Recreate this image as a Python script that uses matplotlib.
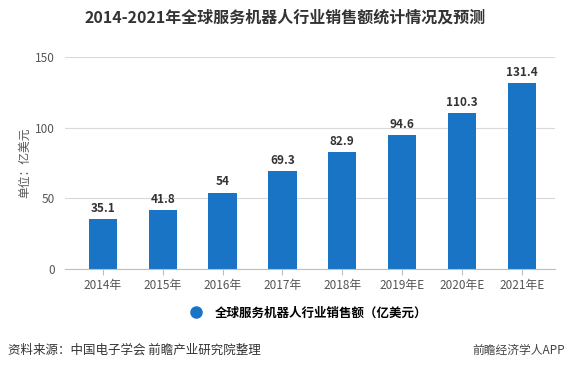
"""Global service robot sales chart."""

import matplotlib

matplotlib.use("Agg")
from matplotlib import pyplot as plt
from matplotlib.lines import Line2D

plt.rcParams["font.family"] = ["Noto Sans CJK SC", "DejaVu Sans"]

years = ["2014年", "2015年", "2016年", "2017年", "2018年", "2019年E", "2020年E", "2021年E"]
sales = [35.1, 41.8, 54, 69.3, 82.9, 94.6, 110.3, 131.4]
sales_labels = ["35.1", "41.8", "54", "69.3", "82.9", "94.6", "110.3", "131.4"]
yticks = [0, 50, 100, 150]
series_name = "全球服务机器人行业销售额（亿美元）"

bar_color = "#1a74c6"

fig = plt.figure(figsize=(5.71, 3.70), dpi=100)
ax = fig.add_axes([65 / 571, 1 - 269 / 370, 490 / 571, 212 / 370])

x = range(len(years))
ax.bar(x, sales, width=0.47, color=bar_color, zorder=2)
for xi, v, lab in zip(x, sales, sales_labels):
    ax.text(xi, v + 3, lab, ha="center", va="bottom", fontsize=8.5,
            fontweight="bold", color="#333333")

ax.set_xlim(-0.63, 7.55)
ax.set_ylim(0, 150)
ax.set_yticks(yticks)
ax.set_xticks(list(x))
ax.set_xticklabels(years)
ax.grid(axis="y", color="#d9d9d9", linewidth=0.8, zorder=0)
for side in ["top", "right", "left"]:
    ax.spines[side].set_visible(False)
ax.spines["bottom"].set_color("#bfbfbf")
ax.tick_params(axis="y", length=0, labelsize=8.5, labelcolor="#555555", pad=7)
ax.tick_params(axis="x", length=4, color="#bfbfbf", labelsize=8.5, labelcolor="#555555")
ax.set_ylabel("单位：亿美元", fontsize=8.5, color="#555555", labelpad=3)

fig.text(0.5, 1 - 18 / 370, "2014-2021年全球服务机器人行业销售额统计情况及预测",
         ha="center", va="center", fontsize=11.5, fontweight="bold", color="#333333")

# legend with a round marker
handle = Line2D([], [], marker="o", linestyle="none", markersize=8, color=bar_color)
ax.legend([handle], [series_name], loc="center", bbox_to_anchor=(0.49, (269 - 313) / 212),
          frameon=False, handletextpad=0.5, prop={"weight": "bold", "size": 9})

fig.text(8 / 571, 1 - 350 / 370, "资料来源：中国电子学会 前瞻产业研究院整理",
         ha="left", va="center", fontsize=9, color="#333333")
fig.text(565 / 571, 1 - 350 / 370, "前瞻经济学人APP",
         ha="right", va="center", fontsize=8.5, color="#444444")

fig.savefig("out.png", dpi=100)
